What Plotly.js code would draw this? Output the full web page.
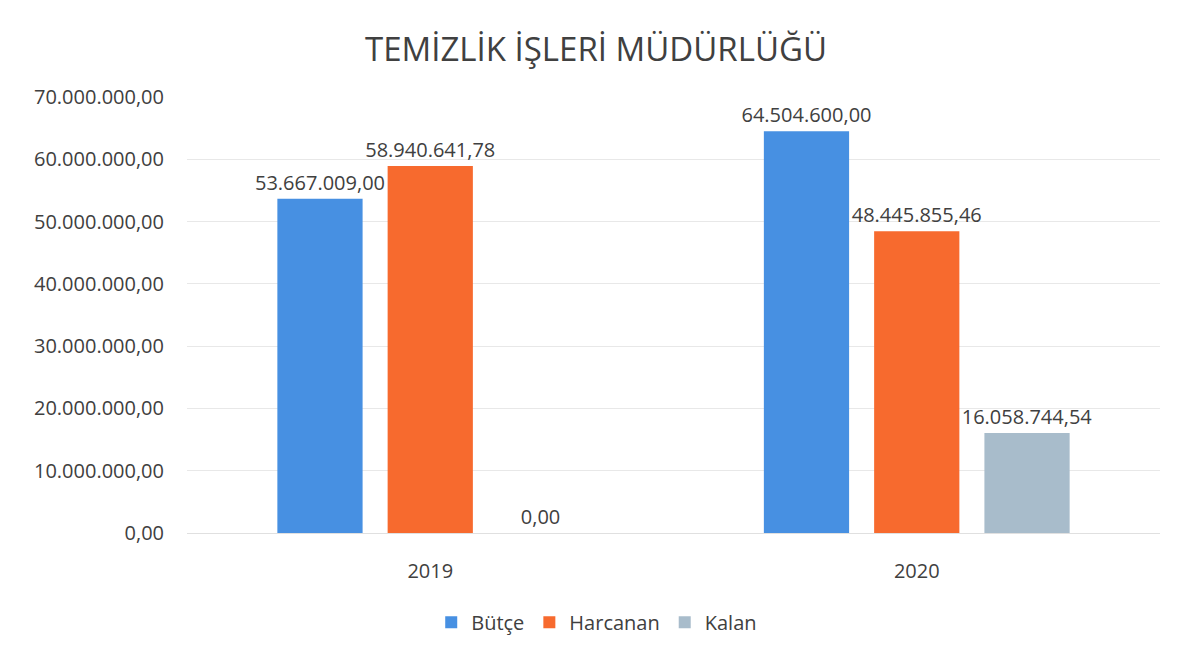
<!DOCTYPE html>
<html><head><meta charset="utf-8">
<script src="https://cdn.plot.ly/plotly-3.0.1.min.js"></script>
<style>body{margin:0;background:#fff}#c{width:1192px;height:658px}</style>
</head><body><div id="c"></div>
<script>
const years = ['2019', '2020'];
const butce = [53667009.00, 64504600.00];
const harcanan = [58940641.78, 48445855.46];
const kalan = [0.00, 16058744.54];
const tickVals = [0, 10000000, 20000000, 30000000, 40000000, 50000000, 60000000, 70000000];

const font = {family: 'Open Sans, Noto Sans, sans-serif', color: '#404040'};
function tr(name, y, color) {
  return {type: 'bar', name: name, x: years, y: y, marker: {color: color},
    texttemplate: '%{y:,.2f}', textposition: 'outside', cliponaxis: false, constraintext: 'none',
    textfont: {size: 20, color: '#404040', family: font.family}};
}
const data = [tr('Bütçe', butce, '#4790e2'), tr('Harcanan', harcanan, '#f76a2e'), tr('Kalan', kalan, '#a8bccb')];
const layout = {
  width: 1192, height: 658, separators: ',.',
  paper_bgcolor: '#fff', plot_bgcolor: '#fff', font: font,
  title: {text: 'TEMİZLİK İŞLERİ MÜDÜRLÜĞÜ', x: 0.5, xanchor: 'center', y: 0.925, yanchor: 'middle', font: {size: 33, color: '#404040', family: font.family}},
  margin: {l: 187, r: 32, t: 97, b: 125},
  barmode: 'group', bargap: 0.32, bargroupgap: 0.227,
  xaxis: {tickfont: {size: 20, color: '#404040'}, showline: true, linecolor: '#e0e0e0', ticks: '', ticklabelstandoff: 20},
  yaxis: {range: [0, 70000000], tickvals: tickVals, tickformat: ',.2f', tickfont: {size: 20, color: '#404040'},
    gridcolor: '#e8e8e8', zeroline: false, ticks: '', ticklabelstandoff: 22},
  legend: {orientation: 'h', x: 0.251, xanchor: 'left', y: -0.16, yanchor: 'top', font: {size: 20, color: '#404040'}},
  showlegend: true
};
Plotly.newPlot('c', data, layout, {displayModeBar: false, staticPlot: true});
</script></body></html>
